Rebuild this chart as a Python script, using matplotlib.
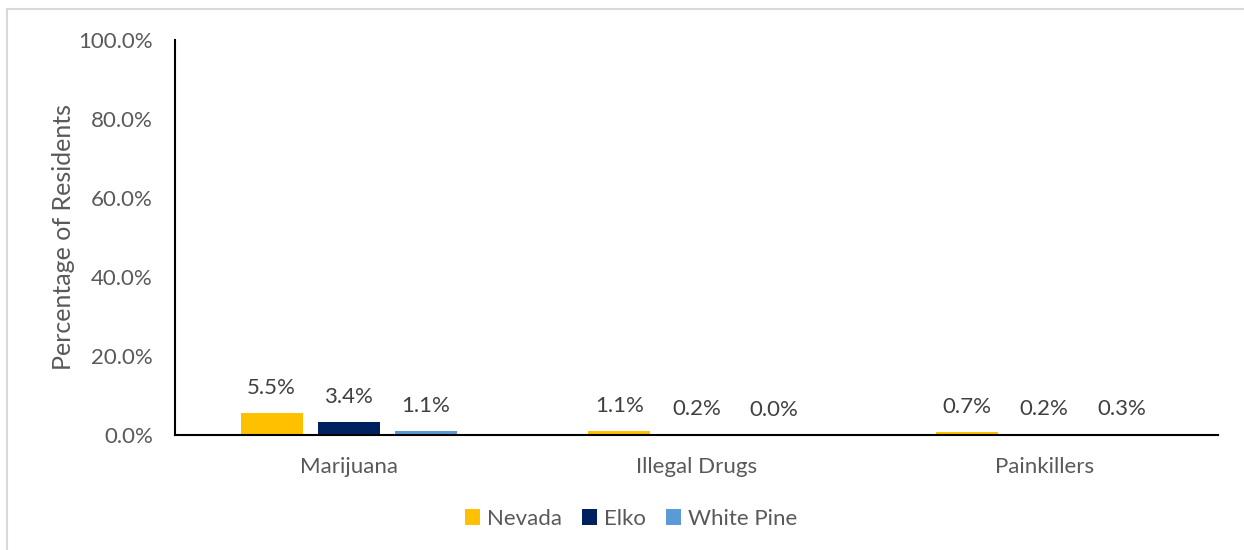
import numpy as np
import matplotlib.pyplot as plt
from matplotlib.lines import Line2D

# Dados
categorias = ['Marijuana', 'Illegal Drugs', 'Painkillers']
series = ['Nevada', 'Elko', 'White Pine']
nevada = [5.5, 1.1, 0.7]
elko = [3.4, 0.2, 0.2]
white_pine = [1.1, 0.0, 0.3]
cores = ['#FFC000', '#002060', '#5B9BD5']
yticks = [0, 20, 40, 60, 80, 100]

plt.rcParams['font.family'] = ['Lato', 'DejaVu Sans']
cinza = '#595959'
fs = 16

fig = plt.figure(figsize=(12.44, 5.5), dpi=100)
ax = fig.add_axes([175 / 1244, 1 - 435 / 550, (1218 - 175) / 1244, (435 - 40) / 550])

x = np.arange(len(categorias))
larg = 0.178
desloc = 0.222
for i, (nome, vals, cor) in enumerate(zip(series, [nevada, elko, white_pine], cores)):
    pos = x + (i - 1) * desloc
    ax.bar(pos, vals, larg, color=cor, label=nome, zorder=2)
    for p, v in zip(pos, vals):
        ax.text(p, v + 3.8, f'{v:.1f}%', ha='center', va='bottom',
                fontsize=fs, color='#404040')

ax.set_xlim(-0.5, 2.5)
ax.set_ylim(0, 100)
ax.set_yticks(yticks)
ax.set_yticklabels([f'{t:.1f}%' for t in yticks], fontsize=fs, color=cinza)
ax.set_xticks(x)
ax.set_xticklabels(categorias, fontsize=fs, color=cinza)
ax.tick_params(axis='x', length=0, pad=16)
ax.tick_params(axis='y', length=0, pad=16)
ax.set_ylabel('Percentage of Residents', fontsize=18, color=cinza, labelpad=2)

for s in ['top', 'right']:
    ax.spines[s].set_visible(False)
ax.spines['left'].set_color('black')
ax.spines['bottom'].set_color('black')
ax.spines['left'].set_linewidth(1.5)
ax.spines['bottom'].set_linewidth(1.5)

leg = fig.legend(loc='center', bbox_to_anchor=(631 / 1244, 1 - 519 / 550), ncol=3,
                 frameon=False, fontsize=fs, handlelength=0.7, handleheight=0.7,
                 handletextpad=0.3, columnspacing=0.9)
for t in leg.get_texts():
    t.set_color(cinza)

# Borda do gráfico
fig.add_artist(Line2D([6.5 / 1244, 1], [1 - 8.5 / 550] * 2, color='#D9D9D9', lw=1.5))
fig.add_artist(Line2D([6.5 / 1244] * 2, [0, 1 - 8.5 / 550], color='#D9D9D9', lw=1.5))

fig.savefig('out.png', dpi=100)
